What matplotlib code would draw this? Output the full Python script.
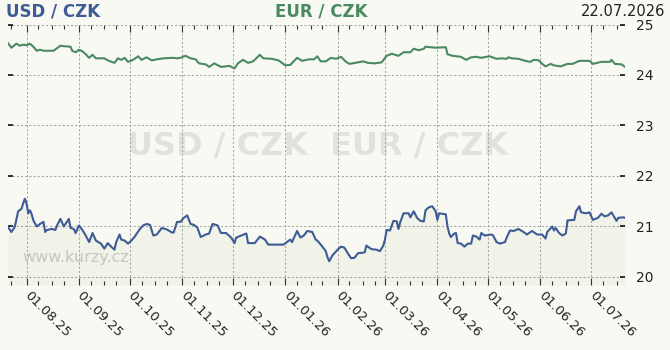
import matplotlib
matplotlib.use("Agg")
import matplotlib.pyplot as plt
import matplotlib.dates as mdates
import pandas as pd

# ---------------- data ----------------
usd_dates = [
    "2025-07-21", "2025-07-23", "2025-07-25", "2025-07-26", "2025-07-27", "2025-07-29", "2025-07-30",
    "2025-07-31", "2025-08-01", "2025-08-02", "2025-08-03", "2025-08-04", "2025-08-05", "2025-08-07",
    "2025-08-09", "2025-08-11", "2025-08-12", "2025-08-13", "2025-08-16", "2025-08-18", "2025-08-19",
    "2025-08-21", "2025-08-23", "2025-08-26", "2025-08-27", "2025-08-29", "2025-08-30", "2025-09-01",
    "2025-09-03", "2025-09-05", "2025-09-07", "2025-09-09", "2025-09-11", "2025-09-14", "2025-09-16",
    "2025-09-18", "2025-09-20", "2025-09-22", "2025-09-23", "2025-09-25", "2025-09-26", "2025-09-28",
    "2025-09-30", "2025-10-02", "2025-10-04", "2025-10-07", "2025-10-09", "2025-10-11", "2025-10-13",
    "2025-10-15", "2025-10-17", "2025-10-20", "2025-10-23", "2025-10-26", "2025-10-27", "2025-10-29",
    "2025-10-31", "2025-11-02", "2025-11-04", "2025-11-06", "2025-11-08", "2025-11-10", "2025-11-12",
    "2025-11-15", "2025-11-17", "2025-11-19", "2025-11-22", "2025-11-24", "2025-11-27", "2025-11-30",
    "2025-12-02", "2025-12-03", "2025-12-06", "2025-12-09", "2025-12-10", "2025-12-14", "2025-12-17",
    "2025-12-20", "2025-12-22", "2025-12-31", "2026-01-02", "2026-01-04", "2026-01-05", "2026-01-08",
    "2026-01-10", "2026-01-12", "2026-01-14", "2026-01-17", "2026-01-19", "2026-01-20", "2026-01-23",
    "2026-01-25", "2026-01-26", "2026-01-27", "2026-01-29", "2026-02-01", "2026-02-03", "2026-02-05",
    "2026-02-07", "2026-02-09", "2026-02-11", "2026-02-13", "2026-02-16", "2026-02-17", "2026-02-18",
    "2026-02-21", "2026-02-24", "2026-02-26", "2026-02-28", "2026-03-01", "2026-03-02", "2026-03-04",
    "2026-03-06", "2026-03-08", "2026-03-09", "2026-03-10", "2026-03-12", "2026-03-15", "2026-03-16",
    "2026-03-18", "2026-03-20", "2026-03-22", "2026-03-24", "2026-03-25", "2026-03-27", "2026-03-29",
    "2026-03-31", "2026-04-01", "2026-04-02", "2026-04-04", "2026-04-06", "2026-04-07", "2026-04-08",
    "2026-04-09", "2026-04-11", "2026-04-12", "2026-04-13", "2026-04-15", "2026-04-17", "2026-04-19",
    "2026-04-21", "2026-04-22", "2026-04-24", "2026-04-26", "2026-04-27", "2026-04-29", "2026-05-03",
    "2026-05-04", "2026-05-06", "2026-05-08", "2026-05-11", "2026-05-12", "2026-05-14", "2026-05-16",
    "2026-05-19", "2026-05-22", "2026-05-24", "2026-05-27", "2026-05-30", "2026-06-02", "2026-06-04",
    "2026-06-05", "2026-06-08", "2026-06-09", "2026-06-10", "2026-06-12", "2026-06-14", "2026-06-16",
    "2026-06-17", "2026-06-21", "2026-06-22", "2026-06-24", "2026-06-25", "2026-06-28", "2026-06-30",
    "2026-07-02", "2026-07-05", "2026-07-07", "2026-07-09", "2026-07-11", "2026-07-13", "2026-07-16",
    "2026-07-17", "2026-07-20", "2026-07-21",
]
usd_values = [
    20.99, 20.89, 20.99, 21.15, 21.30, 21.35, 21.46,
    21.55, 21.45, 21.26, 21.32, 21.24, 21.12, 21.00,
    21.05, 21.09, 20.89, 20.93, 20.95, 20.93, 21.02,
    21.15, 21.00, 21.15, 20.97, 20.95, 20.87, 21.02,
    20.93, 20.82, 20.69, 20.87, 20.72, 20.66, 20.56,
    20.67, 20.60, 20.54, 20.69, 20.84, 20.74, 20.72,
    20.66, 20.72, 20.80, 20.95, 21.02, 21.05, 21.03,
    20.82, 20.84, 20.97, 20.94, 20.88, 20.88, 21.09,
    21.09, 21.17, 21.22, 21.05, 21.03, 20.98, 20.79,
    20.84, 20.86, 21.05, 21.02, 20.87, 20.87, 20.78,
    20.67, 20.78, 20.82, 20.86, 20.67, 20.67, 20.80,
    20.74, 20.64, 20.64, 20.69, 20.74, 20.69, 20.91,
    20.78, 20.82, 20.91, 20.89, 20.74, 20.72, 20.60,
    20.51, 20.39, 20.31, 20.43, 20.54, 20.60, 20.58,
    20.47, 20.37, 20.38, 20.47, 20.48, 20.49, 20.62,
    20.55, 20.54, 20.51, 20.62, 20.74, 20.93, 20.92,
    21.11, 21.10, 20.95, 21.08, 21.26, 21.26, 21.18,
    21.30, 21.17, 21.11, 21.10, 21.32, 21.38, 21.40,
    21.30, 21.13, 21.26, 21.25, 21.24, 21.00, 20.86,
    20.79, 20.86, 20.87, 20.67, 20.66, 20.60, 20.66,
    20.66, 20.82, 20.80, 20.74, 20.87, 20.82, 20.84,
    20.82, 20.69, 20.66, 20.69, 20.78, 20.92, 20.91,
    20.95, 20.89, 20.84, 20.91, 20.84, 20.84, 20.76,
    20.89, 21.00, 20.92, 20.97, 20.87, 20.82, 20.86,
    21.12, 21.13, 21.30, 21.40, 21.28, 21.26, 21.28,
    21.13, 21.17, 21.25, 21.20, 21.22, 21.28, 21.11,
    21.17, 21.18, 21.17,
]

eur_dates = [
    "2025-07-21", "2025-07-23", "2025-07-26", "2025-07-28", "2025-07-30", "2025-08-01", "2025-08-03",
    "2025-08-05", "2025-08-07", "2025-08-09", "2025-08-11", "2025-08-17", "2025-08-21", "2025-08-23",
    "2025-08-27", "2025-08-28", "2025-08-30", "2025-09-01", "2025-09-03", "2025-09-05", "2025-09-07",
    "2025-09-09", "2025-09-11", "2025-09-16", "2025-09-18", "2025-09-22", "2025-09-24", "2025-09-26",
    "2025-09-28", "2025-09-30", "2025-10-03", "2025-10-06", "2025-10-08", "2025-10-11", "2025-10-14",
    "2025-10-17", "2025-10-21", "2025-10-27", "2025-10-29", "2025-10-31", "2025-11-03", "2025-11-06",
    "2025-11-09", "2025-11-11", "2025-11-15", "2025-11-17", "2025-11-20", "2025-11-24", "2025-11-29",
    "2025-12-02", "2025-12-04", "2025-12-07", "2025-12-10", "2025-12-13", "2025-12-17", "2025-12-19",
    "2025-12-24", "2025-12-28", "2026-01-01", "2026-01-04", "2026-01-08", "2026-01-11", "2026-01-15",
    "2026-01-18", "2026-01-20", "2026-01-22", "2026-01-25", "2026-01-28", "2026-01-31", "2026-02-03",
    "2026-02-06", "2026-02-08", "2026-02-13", "2026-02-16", "2026-02-19", "2026-02-23", "2026-02-27",
    "2026-03-02", "2026-03-05", "2026-03-09", "2026-03-12", "2026-03-16", "2026-03-18", "2026-03-21",
    "2026-03-24", "2026-03-25", "2026-03-28", "2026-03-31", "2026-04-06", "2026-04-07", "2026-04-10",
    "2026-04-15", "2026-04-18", "2026-04-21", "2026-04-24", "2026-04-27", "2026-04-30", "2026-05-02",
    "2026-05-06", "2026-05-09", "2026-05-12", "2026-05-13", "2026-05-15", "2026-05-19", "2026-05-23",
    "2026-05-26", "2026-05-28", "2026-05-31", "2026-06-02", "2026-06-04", "2026-06-07", "2026-06-09",
    "2026-06-13", "2026-06-17", "2026-06-20", "2026-06-24", "2026-06-30", "2026-07-02", "2026-07-07",
    "2026-07-12", "2026-07-13", "2026-07-15", "2026-07-19", "2026-07-21",
]
eur_values = [
    24.63, 24.54, 24.62, 24.58, 24.60, 24.59, 24.62,
    24.56, 24.48, 24.50, 24.48, 24.48, 24.58, 24.57,
    24.56, 24.48, 24.45, 24.50, 24.47, 24.41, 24.34,
    24.40, 24.33, 24.33, 24.29, 24.24, 24.33, 24.30,
    24.34, 24.26, 24.30, 24.37, 24.30, 24.35, 24.29,
    24.31, 24.33, 24.34, 24.33, 24.34, 24.38, 24.33,
    24.31, 24.23, 24.21, 24.16, 24.23, 24.16, 24.18,
    24.13, 24.23, 24.30, 24.24, 24.27, 24.40, 24.33,
    24.32, 24.29, 24.19, 24.20, 24.34, 24.28, 24.31,
    24.31, 24.37, 24.27, 24.27, 24.34, 24.32, 24.36,
    24.26, 24.22, 24.25, 24.27, 24.24, 24.23, 24.25,
    24.38, 24.42, 24.38, 24.45, 24.45, 24.52, 24.49,
    24.52, 24.56, 24.55, 24.54, 24.55, 24.41, 24.38,
    24.36, 24.30, 24.35, 24.36, 24.34, 24.36, 24.37,
    24.32, 24.33, 24.32, 24.35, 24.33, 24.32, 24.28,
    24.26, 24.30, 24.29, 24.22, 24.17, 24.22, 24.19,
    24.17, 24.22, 24.22, 24.28, 24.28, 24.22, 24.26,
    24.26, 24.30, 24.22, 24.21, 24.16,
]

y_ticks = [20, 21, 22, 23, 24, 25]
y_tick_labels = ["20", "21", "22", "23", "24", "25"]
title_usd = "USD / CZK"
title_eur = "EUR / CZK"
date_label = "22.07.2026"
watermark = "USD / CZK  EUR / CZK"
site = "www.kurzy.cz"

# ---------------- style ----------------
BG = "#f9f9f4"
FILL = "#f1f2e8"
USD_C = "#3d5b94"
EUR_C = "#4a8a60"
GRID_C = "#a3a3a3"
Y_MIN, Y_MAX = 19.84, 25.0

fig = plt.figure(figsize=(6.7, 3.5), dpi=100)
fig.patch.set_facecolor(BG)
ax = fig.add_axes([8 / 670, (350 - 285) / 350, 617 / 670, (285 - 24.5) / 350])
ax.set_facecolor(BG)

ud = pd.to_datetime(usd_dates)
ed = pd.to_datetime(eur_dates)

ax.fill_between(ud, usd_values, Y_MIN, color=FILL, lw=0, zorder=1)
ax.plot(ud, usd_values, color=USD_C, lw=1.5, zorder=4, solid_joinstyle="round")
ax.plot(ed, eur_values, color=EUR_C, lw=1.5, zorder=4, solid_joinstyle="round")

ax.set_xlim(ud[0], ud[-1])
ax.set_ylim(Y_MIN, Y_MAX)

for s in ["left", "right", "bottom", "top"]:
    ax.spines[s].set_visible(False)

ax.xaxis.set_major_locator(mdates.MonthLocator(bymonthday=1))
ax.xaxis.set_major_formatter(mdates.DateFormatter("%d.%m.%y"))
ax.xaxis.set_minor_locator(mdates.DayLocator(bymonthday=[8, 16, 23]))
ax.set_yticks(y_ticks)
ax.set_yticklabels(y_tick_labels)

ax.grid(True, which="major", color=GRID_C, linestyle=(0, (2, 2)), lw=0.75, zorder=2)

ax.tick_params(axis="x", which="major", direction="in", length=5, width=0.8,
               color="#333333", top=True, bottom=True, labelsize=9.5, pad=6, labelcolor="#222222")
ax.tick_params(axis="x", which="minor", direction="in", length=3, width=0.8,
               color="#333333", top=True, bottom=True)
ax.tick_params(axis="y", which="major", direction="in", length=3.5, width=1.2,
               color="#111111", left=True, right=True, labelleft=False, labelright=True,
               labelsize=10, pad=8, labelcolor="#222222")
for lbl in ax.get_xticklabels():
    lbl.set_rotation(-45)
    lbl.set_ha("left")
    lbl.set_va("center")
    lbl.set_rotation_mode("anchor")

# titles
fig.text(6 / 670, 1 - 12 / 350, title_usd, ha="left", va="center", fontsize=12,
         fontweight="bold", color=USD_C)
fig.text(275 / 670, 1 - 12 / 350, title_eur, ha="left", va="center", fontsize=12,
         fontweight="bold", color=EUR_C)
fig.text(665 / 670, 1 - 12 / 350, date_label, ha="right", va="center", fontsize=10.5,
         color="#222222")

# watermarks
ax.text(0.502, 0.535, watermark, transform=ax.transAxes, ha="center", va="center",
        fontsize=23, fontweight="bold", color="#e1e1dd", zorder=0.5)
ax.text(14 / 617, 0.104, site, transform=ax.transAxes, ha="left", va="center",
        fontsize=11.5, color="#c6c6c2", zorder=3)

fig.savefig("out.png", dpi=100, facecolor=BG)
